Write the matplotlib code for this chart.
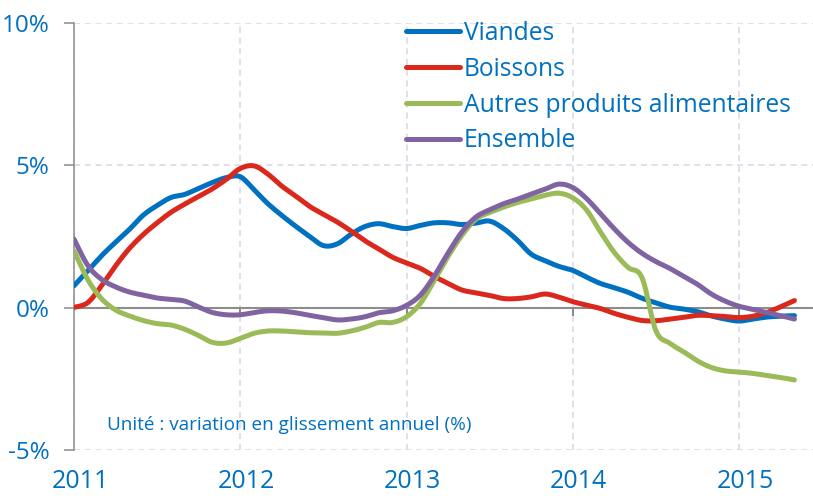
import numpy as np
import matplotlib
matplotlib.use("Agg")
import matplotlib.pyplot as plt
import matplotlib.transforms as mtransforms

# Monthly year-on-year change (%), Jan 2011 - May 2015
viandes = [0.77, 1.30, 1.83, 2.30, 2.75, 3.25, 3.59, 3.87, 3.98, 4.19,
           4.40, 4.57, 4.60, 4.14, 3.65, 3.24, 2.86, 2.51, 2.18, 2.24,
           2.58, 2.85, 2.95, 2.85, 2.78, 2.89, 2.98, 2.98, 2.92, 2.97,
           3.04, 2.78, 2.37, 1.88, 1.65, 1.45, 1.31, 1.07, 0.85, 0.70,
           0.54, 0.33, 0.17, 0.02, -0.05, -0.14, -0.29, -0.40, -0.47, -0.40,
           -0.33, -0.30, -0.28]
boissons = [0.01, 0.18, 0.78, 1.47, 2.08, 2.57, 2.98, 3.35, 3.64, 3.91,
            4.18, 4.51, 4.89, 4.98, 4.69, 4.27, 3.92, 3.56, 3.28, 3.01,
            2.69, 2.35, 2.06, 1.77, 1.57, 1.38, 1.10, 0.85, 0.62, 0.52,
            0.43, 0.32, 0.32, 0.38, 0.48, 0.37, 0.21, 0.09, -0.03, -0.20,
            -0.34, -0.45, -0.46, -0.40, -0.34, -0.27, -0.28, -0.31, -0.35, -0.30,
            -0.17, 0.03, 0.25]
autres = [2.00, 0.98, 0.31, -0.08, -0.29, -0.45, -0.56, -0.61, -0.76, -0.98,
          -1.22, -1.24, -1.08, -0.90, -0.82, -0.82, -0.85, -0.88, -0.89, -0.90,
          -0.82, -0.69, -0.52, -0.52, -0.32, 0.15, 0.95, 1.80, 2.54, 3.11,
          3.34, 3.53, 3.69, 3.82, 3.95, 4.02, 3.86, 3.43, 2.66, 1.94,
          1.41, 1.05, -0.81, -1.25, -1.55, -1.87, -2.10, -2.22, -2.26, -2.31,
          -2.38, -2.45, -2.54]
ensemble = [2.41, 1.48, 0.99, 0.73, 0.55, 0.44, 0.34, 0.29, 0.23, 0.02,
            -0.17, -0.25, -0.25, -0.17, -0.11, -0.12, -0.18, -0.27, -0.35, -0.43,
            -0.40, -0.32, -0.18, -0.11, 0.08, 0.44, 1.11, 1.92, 2.66, 3.18,
            3.44, 3.65, 3.81, 3.99, 4.16, 4.34, 4.22, 3.83, 3.30, 2.77,
            2.29, 1.91, 1.62, 1.38, 1.10, 0.82, 0.48, 0.23, 0.05, -0.06,
            -0.17, -0.28, -0.40]

series_names = ["Viandes", "Boissons", "Autres produits alimentaires", "Ensemble"]
series_colors = ["#0070C0", "#DA291C", "#9BBB59", "#8064A2"]
years = [2011, 2012, 2013, 2014, 2015]
y_ticks = [-5, 0, 5, 10]
y_labels = ["-5%", "0%", "5%", "10%"]

months = 2011 + np.arange(len(viandes)) / 12.0
txt_color = "#0070C0"
axis_gray = "#8C8C8C"


# Excel-style smoothed line (Catmull-Rom through the points)
def smooth(x, y, n=12):
    pts = np.column_stack([x, y])
    p = np.vstack([pts[0], pts, pts[-1]])
    t = np.linspace(0, 1, n, endpoint=False)[:, None]
    out = []
    for i in range(1, len(p) - 2):
        p0, p1, p2, p3 = p[i - 1], p[i], p[i + 1], p[i + 2]
        seg = 0.5 * (2 * p1 + (-p0 + p2) * t
                     + (2 * p0 - 5 * p1 + 4 * p2 - p3) * t ** 2
                     + (-p0 + 3 * p1 - 3 * p2 + p3) * t ** 3)
        out.append(seg)
    out.append(pts[-1:])
    out = np.vstack(out)
    return out[:, 0], out[:, 1]


plt.rcParams['font.family'] = ['Open Sans', 'DejaVu Sans']

fig = plt.figure(figsize=(8.13, 5.0), dpi=100)
ax = fig.add_axes([74 / 813, 0.1, 1 - 74 / 813, 0.854])

for vals, name, col in zip([viandes, boissons, autres, ensemble], series_names, series_colors):
    sx, sy = smooth(months, vals)
    ax.plot(sx, sy, color=col, lw=3.6, label=name, solid_capstyle='round', zorder=3)

ax.set_xlim(2011, 2015.445)
ax.set_ylim(-5, 10)

# zero line with small year ticks under it
ax.axhline(0, color=axis_gray, lw=1.5, zorder=2)
ax.vlines(years[1:], -0.3, 0, color=axis_gray, lw=1.5, zorder=2)

ax.set_yticks(y_ticks)
ax.set_yticklabels(y_labels)
ax.set_xticks(years)
ax.set_xticklabels([str(y) for y in years])
ax.tick_params(axis='y', length=7, width=1.1, color=axis_gray, pad=10.5,
               labelsize=17.5, labelcolor=txt_color)
ax.tick_params(axis='x', length=0, pad=13.5, labelsize=18, labelcolor=txt_color)

# year labels sit a little right of their gridline in the original
shift = mtransforms.ScaledTranslation(6 / 100, 0, fig.dpi_scale_trans)
for lab in ax.get_xticklabels():
    lab.set_transform(lab.get_transform() + shift)

ax.grid(True, color="#DAD6E6", lw=1.1, linestyle=(0, (4, 3)), zorder=1)
for s in ['top', 'right', 'bottom']:
    ax.spines[s].set_visible(False)
ax.spines['left'].set_color(axis_gray)
ax.spines['left'].set_linewidth(1.1)

leg = ax.legend(loc='upper left', bbox_to_anchor=(406 / 813, 0.958),
                bbox_transform=fig.transFigure, frameon=False, fontsize=17.7,
                handlelength=2.2, handletextpad=0.16, labelspacing=0.44,
                borderpad=0, borderaxespad=0)
for t in leg.get_texts():
    t.set_color(txt_color)

ax.text(107 / 813, 75 / 500, "Unité : variation en glissement annuel (%)",
        transform=fig.transFigure, fontsize=13.6, color=txt_color, va='center')

fig.savefig("out.png", dpi=100)
